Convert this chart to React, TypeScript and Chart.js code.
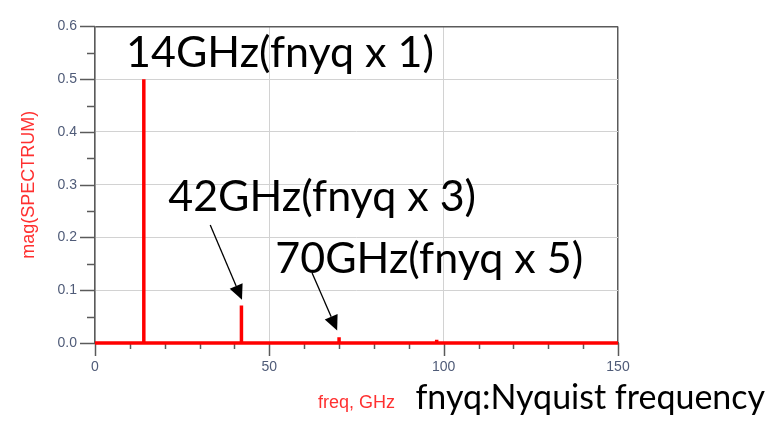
import { useEffect, useRef } from 'react';
import { Chart, registerables } from 'chart.js';

Chart.register(...registerables);

// Spectral lines: odd harmonics of the Nyquist frequency
const freqGHz = [14, 42, 70, 98];
const magnitude = [0.5, 0.071, 0.011, 0.006];

// Axis range and labels
const xRange = [0, 150];
const xMajorTicks = [0, 50, 100, 150];
const yRange = [0, 0.6];
const yTickLabels = ['0.0', '0.1', '0.2', '0.3', '0.4', '0.5', '0.6'];

// Call-out text
const harmonicLabels = ['14GHz(fnyq x 1)', '42GHz(fnyq x 3)', '70GHz(fnyq x 5)'];
const footnote = 'fnyq:Nyquist frequency';

// Text anchors and arrows in data units (GHz, magnitude)
const labelAnchors = [
  { x: 8.9, y: 0.5236 },
  { x: 21.0, y: 0.251 },
  { x: 51.7, y: 0.1327 },
];
const footnoteAnchor = { x: 91.9, y: -0.1255 };
const arrows = [
  { from: { x: 33.05, y: 0.2236 }, to: { x: 42.16, y: 0.0818 } },
  { from: { x: 62.27, y: 0.1327 }, to: { x: 69.45, y: 0.0236 } },
];

const RED = '#ff0000';
const TITLE_RED = '#ff3030';
const TICK_TEXT = '#4f5b78';
const GRID = '#d2d2d2';
const FRAME = '#5a5a5a';
const CALLOUT_FONT = "Lato, 'Open Sans', sans-serif";
const AXIS_FONT = "Arial, 'Liberation Sans', sans-serif";

function spectrumPoints() {
  const pts: { x: number; y: number }[] = [{ x: xRange[0], y: 0 }];
  freqGHz.forEach((f, i) => {
    pts.push({ x: f, y: 0 }, { x: f, y: magnitude[i] }, { x: f, y: 0 });
  });
  pts.push({ x: xRange[1], y: 0 });
  return pts;
}

const isMultiple = (v: number, step: number) => Math.abs(v / step - Math.round(v / step)) < 1e-6;

const decorPlugin = {
  id: 'decor',
  beforeDatasetsDraw(chart: any) {
    const { ctx, chartArea, scales } = chart;
    const xs = scales.x;
    const ys = scales.y;
    ctx.save();
    ctx.strokeStyle = FRAME;
    ctx.lineWidth = 1.5;
    // outward tick marks, long for labelled ticks, short for minor ones
    xs.ticks.forEach((t: any) => {
      const px = Math.round(xs.getPixelForValue(t.value)) + 0.5;
      const len = isMultiple(t.value, 50) ? 13 : 6;
      ctx.beginPath();
      ctx.moveTo(px, chartArea.bottom);
      ctx.lineTo(px, chartArea.bottom + len);
      ctx.stroke();
    });
    ys.ticks.forEach((t: any) => {
      const py = Math.round(ys.getPixelForValue(t.value)) + 0.5;
      const len = isMultiple(t.value, 0.1) ? 15 : 8;
      ctx.beginPath();
      ctx.moveTo(chartArea.left, py);
      ctx.lineTo(chartArea.left - len, py);
      ctx.stroke();
    });
    ctx.restore();
  },
  afterDatasetsDraw(chart: any) {
    const { ctx, scales } = chart;
    const xs = scales.x;
    const ys = scales.y;
    const px = (p: { x: number; y: number }) => [xs.getPixelForValue(p.x), ys.getPixelForValue(p.y)];
    ctx.save();
    ctx.fillStyle = '#000';
    ctx.textBaseline = 'alphabetic';
    ctx.textAlign = 'left';
    ctx.font = `43px ${CALLOUT_FONT}`;
    harmonicLabels.forEach((txt, i) => {
      const [x, y] = px(labelAnchors[i]);
      ctx.fillText(txt, x, y);
    });
    ctx.font = `34px ${CALLOUT_FONT}`;
    const [fx, fy] = px(footnoteAnchor);
    ctx.fillText(footnote, fx, fy);

    ctx.strokeStyle = '#000';
    ctx.lineWidth = 1.3;
    arrows.forEach((a) => {
      const [x0, y0] = px(a.from);
      const [x1, y1] = px(a.to);
      const ang = Math.atan2(y1 - y0, x1 - x0);
      const headLen = 15;
      const headHalf = 7;
      const bx = x1 - headLen * Math.cos(ang);
      const by = y1 - headLen * Math.sin(ang);
      ctx.beginPath();
      ctx.moveTo(x0, y0);
      ctx.lineTo(bx, by);
      ctx.stroke();
      ctx.beginPath();
      ctx.moveTo(x1, y1);
      ctx.lineTo(bx + headHalf * Math.sin(ang), by - headHalf * Math.cos(ang));
      ctx.lineTo(bx - headHalf * Math.sin(ang), by + headHalf * Math.cos(ang));
      ctx.closePath();
      ctx.fill();
    });
    ctx.restore();
  },
};

export default function App() {
  const canvasRef = useRef<HTMLCanvasElement | null>(null);

  useEffect(() => {
    if (!canvasRef.current) return;
    const chart = new Chart(canvasRef.current, {
      type: 'scatter',
      data: {
        datasets: [
          {
            data: spectrumPoints(),
            showLine: true,
            borderColor: RED,
            backgroundColor: RED,
            borderWidth: 3.5,
            borderJoinStyle: 'bevel',
            pointRadius: 0,
            tension: 0,
            clip: 6,
          },
        ],
      },
      plugins: [decorPlugin],
      options: {
        animation: false,
        responsive: true,
        maintainAspectRatio: false,
        layout: { padding: { top: 13, right: 157, left: 0, bottom: 0 } },
        plugins: { legend: { display: false }, tooltip: { enabled: false } },
        scales: {
          x: {
            type: 'linear',
            min: xRange[0],
            max: xRange[1],
            afterFit: (s: any) => {
              s.height = 83;
            },
            ticks: {
              stepSize: 10,
              autoSkip: false,
              maxRotation: 0,
              padding: 16,
              color: TICK_TEXT,
              font: { family: AXIS_FONT, size: 14 },
              callback: (v: any) => (xMajorTicks.includes(Number(v)) ? String(v) : ''),
            },
            grid: {
              drawTicks: false,
              color: (c: any) => {
                const v = c.tick ? c.tick.value : 0;
                if (v === xRange[1]) return FRAME;
                return isMultiple(v, 50) ? GRID : 'rgba(0,0,0,0)';
              },
              lineWidth: (c: any) => (c.tick && c.tick.value === xRange[1] ? 1.5 : 1),
            },
            border: { color: FRAME, width: 1.5 },
            title: {
              display: true,
              text: 'freq, GHz',
              color: TITLE_RED,
              font: { family: AXIS_FONT, size: 18 },
              padding: { top: 0, bottom: 12 },
            },
          },
          y: {
            type: 'linear',
            min: yRange[0],
            max: yRange[1],
            afterFit: (s: any) => {
              s.width = 95;
            },
            ticks: {
              stepSize: 0.05,
              autoSkip: false,
              padding: 18,
              color: TICK_TEXT,
              font: { family: AXIS_FONT, size: 14 },
              callback: (v: any) => {
                const n = Number(v);
                return isMultiple(n, 0.1) ? yTickLabels[Math.round(n * 10)] : '';
              },
            },
            grid: {
              drawTicks: false,
              color: (c: any) => {
                const v = c.tick ? c.tick.value : 0;
                if (Math.abs(v - yRange[1]) < 1e-6) return FRAME;
                return isMultiple(v, 0.1) ? GRID : 'rgba(0,0,0,0)';
              },
              lineWidth: (c: any) => (c.tick && Math.abs(c.tick.value - yRange[1]) < 1e-6 ? 1.5 : 1),
            },
            border: { color: FRAME, width: 1.5 },
            title: {
              display: true,
              text: 'mag(SPECTRUM)',
              color: TITLE_RED,
              font: { family: AXIS_FONT, size: 18 },
              padding: { top: 18, bottom: 0 },
            },
          },
        },
      },
    } as any);
    return () => chart.destroy();
  }, []);

  return (
    <div style={{ position: 'fixed', left: 0, top: 0, width: 775, height: 426, background: '#fff' }}>
      <canvas ref={canvasRef} />
    </div>
  );
}
